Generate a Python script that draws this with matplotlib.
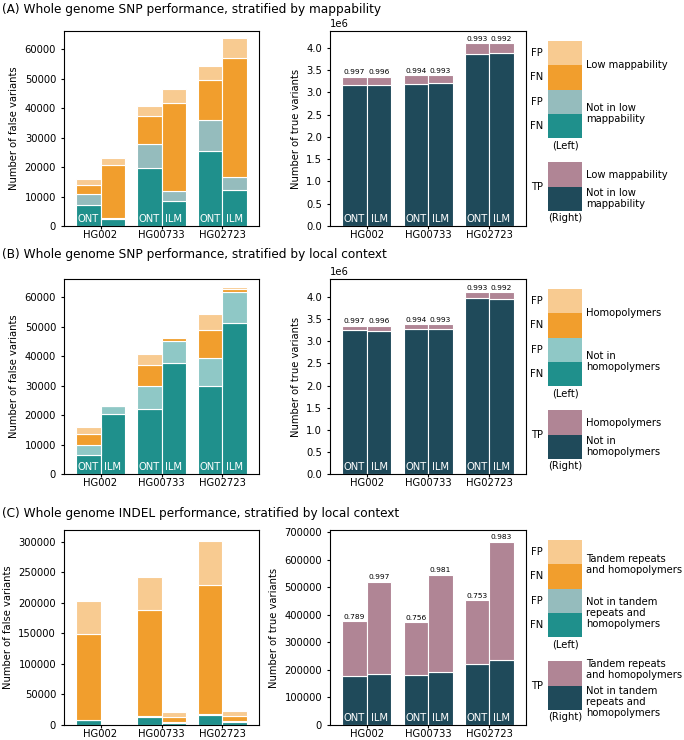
import numpy as np
import matplotlib.pyplot as plt

W, H = 684, 740

samples = ["HG002", "HG00733", "HG02723"]
techs = ["ONT", "ILM"]

# bar order inside each list: HG002 ONT, HG002 ILM, HG00733 ONT, HG00733 ILM, HG02723 ONT, HG02723 ILM

# (A) SNP, stratified by mappability
a_fn_not = [7000, 2300, 19800, 8400, 25500, 12100]
a_fp_not = [4000, 400, 7900, 3400, 10500, 4500]
a_fn_low = [2900, 17900, 9600, 29900, 13500, 40400]
a_fp_low = [2000, 2600, 3500, 4900, 4700, 6600]
a_tp_not = [3158000, 3173000, 3188000, 3203000, 3872000, 3880000]
a_tp_low = [195000, 180000, 203000, 180000, 241000, 225000]
a_prec = ["0.997", "0.996", "0.994", "0.993", "0.993", "0.992"]

# (B) SNP, stratified by homopolymers
b_fn_not = [6400, 20200, 22200, 37500, 29900, 51300]
b_fp_not = [3500, 2700, 7700, 7700, 9600, 10400]
b_fn_low = [3500, 200, 7000, 1100, 9300, 1000]
b_fp_low = [2500, 100, 3900, 300, 5400, 900]
b_tp_not = [3245000, 3230000, 3275000, 3268000, 3980000, 3950000]
b_tp_low = [108000, 123000, 116000, 115000, 133000, 155000]
b_prec = ["0.997", "0.996", "0.994", "0.993", "0.993", "0.992"]

# (C) INDEL, stratified by tandem repeats and homopolymers
c_fn_not = [8200, 500, 13100, 3800, 16400, 4900]
c_fp_not = [500, 500, 1600, 1700, 2100, 1600]
c_fn_low = [139700, 1200, 173000, 7000, 210500, 8800]
c_fp_low = [54600, 1100, 54500, 9300, 71500, 8200]
c_tp_not = [178000, 184000, 181700, 192600, 222800, 235000]
c_tp_low = [199900, 336800, 191300, 353400, 230200, 431000]
c_prec = ["0.789", "0.997", "0.756", "0.981", "0.753", "0.983"]

titles = [
    "(A) Whole genome SNP performance, stratified by mappability",
    "(B) Whole genome SNP performance, stratified by local context",
    "(C) Whole genome INDEL performance, stratified by local context",
]
low_labels = ["Low mappability", "Homopolymers", "Tandem repeats\nand homopolymers"]
not_labels = ["Not in low\nmappability", "Not in\nhomopolymers", "Not in tandem\nrepeats and\nhomopolymers"]

C_FN_NOT = "#1f908c"
C_FP_NOT = "#95bcbd"
C_FP_NOT_B = "#8fc8c6"
C_FN_LOW = "#f19e2d"
C_FP_LOW = "#f8cb91"
C_TP_NOT = "#1f4a5a"
C_TP_LOW = "#b08595"

plt.rcParams["font.size"] = 7.2
plt.rcParams["xtick.major.size"] = 2.4
plt.rcParams["xtick.major.pad"] = 0.8
plt.rcParams["ytick.major.size"] = 2.4
plt.rcParams["ytick.major.pad"] = 3.3


def px_axes(fig, x0, y0, w, h):
    return fig.add_axes([x0 / W, 1 - (y0 + h) / H, w / W, h / H])


def bar_positions():
    xs = []
    for i in range(len(samples)):
        for off in (-0.2, 0.2):
            xs.append(i + off)
    return np.array(xs)


def tech_labels(ax, xs, base, top):
    for j, x in enumerate(xs):
        if base[j] > 0.06 * top:
            ax.annotate(techs[j % 2], xy=(x, 0), xytext=(0, 1.5), textcoords="offset points",
                        ha="center", va="bottom", color="white", fontsize=7.2)


def plot_false(ax, segs, colors, top_factor):
    xs = bar_positions()
    bottom = np.zeros(len(xs))
    for seg, col in zip(segs, colors):
        ax.bar(xs, seg, width=0.4, bottom=bottom, color=col, edgecolor="white", linewidth=0.8)
        bottom = bottom + np.array(seg)
    top = bottom.max() * top_factor
    ax.set_ylim(0, top)
    ax.set_xlim(-0.6, 2.6)
    ax.set_xticks(range(len(samples)))
    ax.set_xticklabels(samples)
    ax.set_ylabel("Number of false variants")
    tech_labels(ax, xs, np.array(segs[0]), top)


def plot_true(ax, tp_not, tp_low, prec, top_factor):
    xs = bar_positions()
    ax.bar(xs, tp_not, width=0.4, color=C_TP_NOT, edgecolor="white", linewidth=0.8)
    ax.bar(xs, tp_low, width=0.4, bottom=tp_not, color=C_TP_LOW, edgecolor="white", linewidth=0.8)
    total = np.array(tp_not) + np.array(tp_low)
    top = total.max() * top_factor
    ax.set_ylim(0, top)
    ax.set_xlim(-0.6, 2.6)
    ax.set_xticks(range(len(samples)))
    ax.set_xticklabels(samples)
    ax.set_ylabel("Number of true variants")
    for x, t, p in zip(xs, total, prec):
        ax.annotate(p, xy=(x, t), xytext=(0, 1), textcoords="offset points",
                    ha="center", va="bottom", fontsize=5.4)
    tech_labels(ax, xs, np.array(tp_not), top)


def plot_legend(fig, top, fp_not_col, low_lab, not_lab, nudge):
    ax = px_axes(fig, 548, top, 34, 170)
    ax.set_xlim(0, 1)
    ax.set_ylim(7, 0)
    ax.axis("off")
    cols = [C_FP_LOW, C_FN_LOW, fp_not_col, C_FN_NOT, None, C_TP_LOW, C_TP_NOT]
    for i, c in enumerate(cols):
        if c is not None:
            ax.bar(0.5, 1, width=1, bottom=i, color=c, linewidth=0)
    for i, lab in enumerate(["FP", "FN", "FP", "FN"]):
        ax.text(-0.15, i + 0.5, lab, ha="right", va="center")
    ax.text(-0.15, 6, "TP", ha="right", va="center")
    ax.text(1.12, 1, low_lab, ha="left", va="center", linespacing=1.1)
    ax.text(1.12, 3, not_lab, ha="left", va="center", linespacing=1.1)
    ax.text(1.12, 5.5 - nudge, low_lab, ha="left", va="center", linespacing=1.1)
    ax.text(1.12, 6.5 + nudge, not_lab, ha="left", va="center", linespacing=1.1)
    ax.text(0.5, 4.1, "(Left)", ha="center", va="top")
    ax.text(0.5, 7.1, "(Right)", ha="center", va="top")


fig = plt.figure(figsize=(W / 100, H / 100), dpi=100)

rows = [
    (31, 9, [a_fn_not, a_fp_not, a_fn_low, a_fp_low], C_FP_NOT, a_tp_not, a_tp_low, a_prec, 1.04, 1.065, 0.0),
    (279, 255, [b_fn_not, b_fp_not, b_fn_low, b_fp_low], C_FP_NOT_B, b_tp_not, b_tp_low, b_prec, 1.04, 1.072, 0.0),
    (530, 513, [c_fn_not, c_fp_not, c_fn_low, c_fp_low], C_FP_NOT, c_tp_not, c_tp_low, c_prec, 1.062, 1.063, 0.18),
]

for k, (top, ty, segs, fpn, tpn, tpl, prec, lf, rf, nudge) in enumerate(rows):
    fig.text(2 / W, 1 - ty / H, titles[k], ha="left", va="center", fontsize=8.7)
    axl = px_axes(fig, 64, top, 195, 195)
    plot_false(axl, segs, [C_FN_NOT, fpn, C_FN_LOW, C_FP_LOW], lf)
    axr = px_axes(fig, 330, top, 196, 195)
    plot_true(axr, tpn, tpl, prec, rf)
    plot_legend(fig, top + 10, fpn, low_labels[k], not_labels[k], nudge)

fig.savefig("out.png", dpi=100)
